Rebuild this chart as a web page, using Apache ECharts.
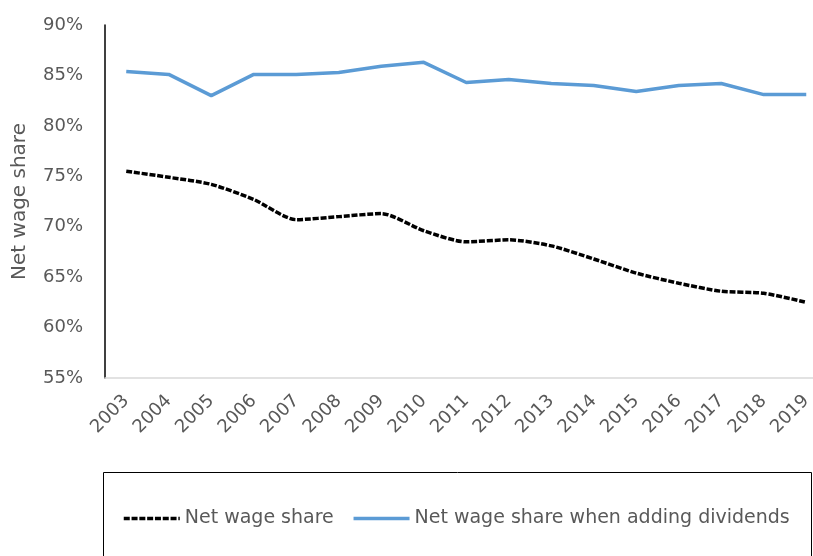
<!DOCTYPE html>
<html>
<head>
<meta charset="utf-8">
<script src="https://cdn.jsdelivr.net/npm/echarts@6/dist/echarts.min.js"></script>
<style>
  html, body { margin: 0; padding: 0; background: #fff; }
  #chart { width: 813px; height: 556px; }
</style>
</head>
<body>
<div id="chart"></div>
<script>
// Years on the category axis
const years = ['2003','2004','2005','2006','2007','2008','2009','2010','2011',
               '2012','2013','2014','2015','2016','2017','2018','2019'];

// Net wage share, percent
const netWageShare = [75.5, 74.9, 74.2, 72.7, 70.7, 71.0, 71.3, 69.6, 68.5,
                      68.7, 68.1, 66.8, 65.4, 64.4, 63.6, 63.4, 62.5];

// Net wage share including dividends, percent
const netWageShareDiv = [85.4, 85.1, 83.0, 85.1, 85.1, 85.3, 85.9, 86.3, 84.3,
                         84.6, 84.2, 84.0, 83.4, 84.0, 84.2, 83.1, 83.1];

// Value axis range
const yMin = 55, yMax = 90, yStep = 5;

const font = '"DejaVu Sans", sans-serif';
const grey = '#595959';

const chart = echarts.init(document.getElementById('chart'), null, { renderer: 'canvas' });

chart.setOption({
  animation: false,
  backgroundColor: '#ffffff',
  grid: {
    left: 105, top: 25, width: 722.5, height: 353,
    outerBoundsMode: 'none'
  },
  xAxis: {
    type: 'category',
    data: years,
    boundaryGap: true,
    axisLine: { lineStyle: { color: '#d9d9d9', width: 1.5 } },
    axisTick: { show: false },
    axisLabel: { rotate: 45, color: grey, fontSize: 18, fontFamily: font, margin: 20, interval: 0 }
  },
  yAxis: {
    type: 'value',
    min: yMin, max: yMax, interval: yStep,
    name: 'Net wage share',
    nameLocation: 'middle',
    nameGap: 75,
    nameTextStyle: { color: grey, fontSize: 20, fontFamily: font },
    axisLine: { show: true, lineStyle: { color: '#000000', width: 1.5 } },
    axisTick: { show: false },
    splitLine: { show: false },
    axisLabel: { formatter: '{value}%', color: grey, fontSize: 18, fontFamily: font, margin: 22 }
  },
  legend: {
    left: 117,
    top: 504,
    itemWidth: 56,
    itemHeight: 14,
    itemGap: 18,
    itemStyle: { opacity: 0 },
    lineStyle: { width: 3.5 },
    textStyle: { color: grey, fontSize: 19, fontFamily: font },
    data: ['Net wage share', 'Net wage share when adding dividends']
  },
  graphic: [{
    type: 'rect',
    shape: { x: 103.5, y: 472.5, width: 708, height: 120 },
    style: { fill: 'none', stroke: '#000000', lineWidth: 1 },
    silent: true
  }],
  series: [
    {
      name: 'Net wage share',
      type: 'line',
      data: netWageShare,
      symbol: 'none',
      smooth: 0.25,
      color: '#000000',
      lineStyle: { color: '#000000', width: 3.5, type: [6, 1.8] }
    },
    {
      name: 'Net wage share when adding dividends',
      type: 'line',
      data: netWageShareDiv,
      symbol: 'none',
      color: '#5b9bd5',
      lineStyle: { color: '#5b9bd5', width: 3.5 }
    }
  ]
});
</script>
</body>
</html>
